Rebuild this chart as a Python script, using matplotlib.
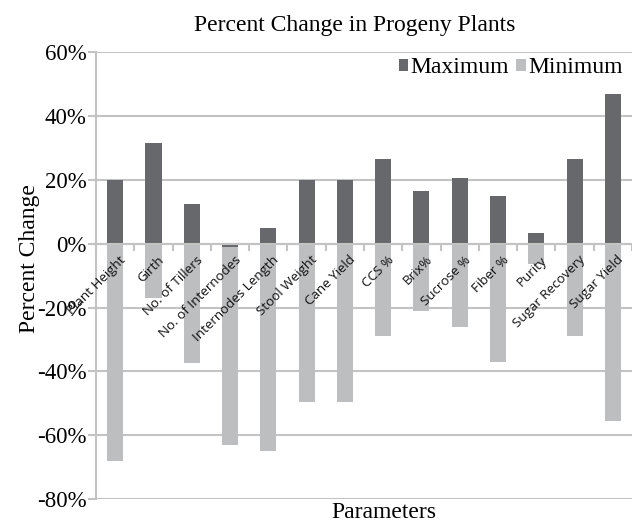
import matplotlib.pyplot as plt
import matplotlib.transforms as mtransforms
import numpy as np

# percent change per parameter
params = ["Plant Height", "Girth", "No. of Tillers", "No. of Internodes",
          "Internodes Length", "Stool Weight", "Cane Yield", "CCS %", "Brix%",
          "Sucrose %", "Fiber %", "Purity", "Sugar Recovery", "Sugar Yield"]
maximum = [20, 31.5, 12.5, -1, 5, 20, 20, 26.5, 16.5, 20.5, 15, 3.5, 26.5, 47]
minimum = [-68, -17, -37.5, -63, -65, -49.5, -49.5, -29, -21, -26, -37, -6.5, -29, -55.5]
yticks = [-80, -60, -40, -20, 0, 20, 40, 60]

dark = "#67686b"
light = "#bdbec0"
grid = "#c3c3c3"
serif = "Liberation Serif"

fig = plt.figure(figsize=(6.32, 5.26), dpi=100)
ax = fig.add_axes([0.152, 0.051, 0.848, 0.850])

x = np.arange(len(params))
w = 0.42
ax.bar(x, minimum, w, color=light, label="Minimum", zorder=2)
ax.bar(x, maximum, w, color=dark, label="Maximum", zorder=3)

ax.set_xlim(-0.5, len(params) - 0.5)
ax.set_ylim(-80, 60)
ax.set_yticks(yticks)
ax.set_yticklabels(["%d%%" % v for v in yticks], fontfamily=serif, fontsize=16.5)
ax.yaxis.grid(True, color=grid, linewidth=1.5, zorder=0)
ax.tick_params(axis="y", length=6, color=grid, width=1.5, pad=1)

# category axis sits on zero
for s in ["top", "right"]:
    ax.spines[s].set_visible(False)
ax.spines["left"].set_color(grid)
ax.spines["left"].set_linewidth(1.5)
ax.spines["bottom"].set_position(("data", 0))
ax.spines["bottom"].set_color(grid)
ax.spines["bottom"].set_linewidth(1.5)
ax.spines["bottom"].set_zorder(4)

ax.set_xticks(x)
ax.set_xticklabels(params, rotation=45, ha="right", rotation_mode="anchor",
                   fontfamily="Open Sans", fontsize=9.6, color="#111111")
ax.tick_params(axis="x", length=0, pad=7)
ax.set_xticks(np.arange(len(params) + 1) - 0.5, minor=True)
ax.tick_params(axis="x", which="minor", length=5, color=grid, width=1.5)
ax.xaxis.set_zorder(5)
shift = mtransforms.ScaledTranslation(4 / 100, 0, fig.dpi_scale_trans)
for lab in ax.get_xticklabels():
    lab.set_transform(lab.get_transform() + shift)

ax.set_title("Percent Change in Progeny Plants", fontfamily=serif, fontsize=17, pad=15, x=0.483)
ax.set_ylabel("Percent Change", fontfamily=serif, fontsize=17)
ax.yaxis.set_label_coords(-0.104, 0.539)
fig.text(0.608, 0.005, "Parameters", ha="center", va="bottom", fontfamily=serif, fontsize=17)

h, l = ax.get_legend_handles_labels()
ax.legend(h[::-1], l[::-1], loc="upper right", bbox_to_anchor=(1.0, 1.01), ncol=2,
          frameon=False, prop={"family": serif, "size": 17}, handlelength=0.4,
          handleheight=0.4, handletextpad=0.1, columnspacing=0.3, borderaxespad=0.0)

fig.savefig("out.png", dpi=100)
